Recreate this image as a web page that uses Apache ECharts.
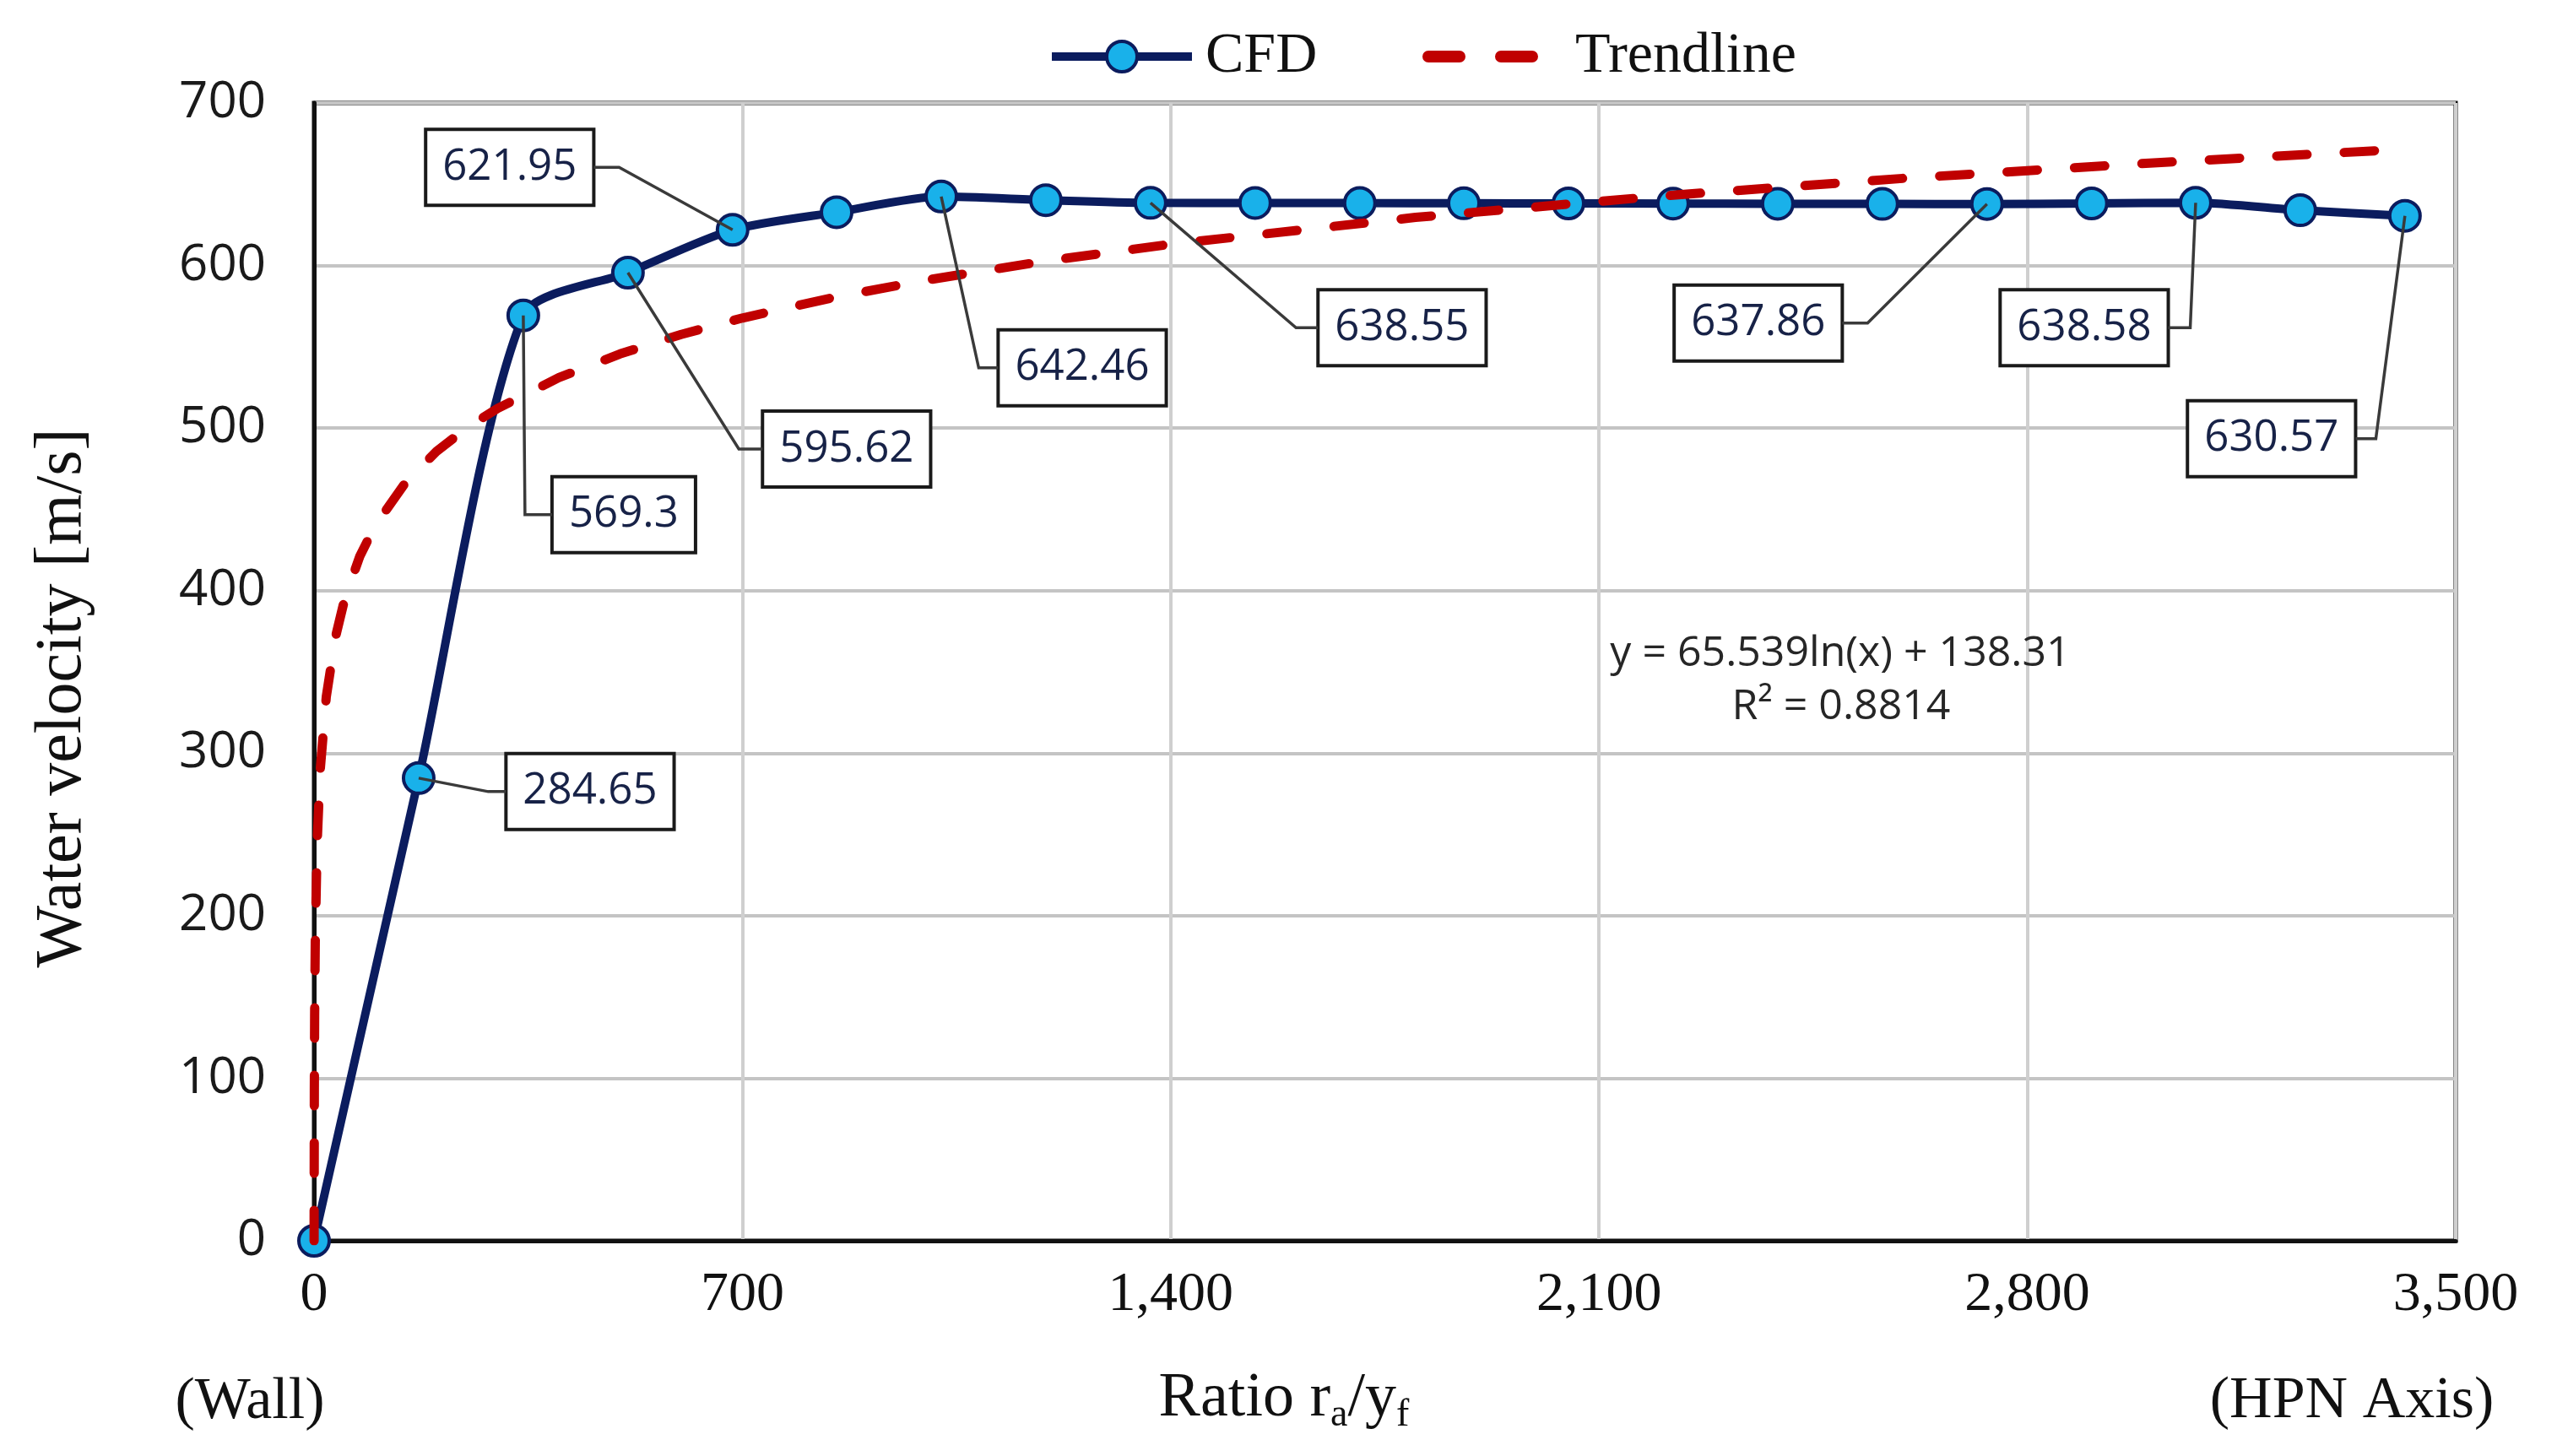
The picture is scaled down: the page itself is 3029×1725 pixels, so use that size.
<!DOCTYPE html>
<html><head><meta charset="utf-8">
<script src="https://cdn.jsdelivr.net/npm/echarts@6/dist/echarts.min.js"></script>
<style>html,body{margin:0;padding:0;background:#fff}#c{width:3029px;height:1725px}</style>
</head><body><div id="c"></div>
<script>
// ---- data ----
const cfdX = [0, 171, 342, 513, 684, 854, 1025, 1196, 1367, 1538, 1709, 1879, 2050, 2221, 2392, 2563, 2734, 2905, 3075, 3246, 3417];
const cfdY = [0, 284.65, 569.3, 595.62, 621.95, 632.8, 642.46, 640.2, 638.55, 638.5, 638.4, 638.3, 638.2, 638.1, 638.0, 637.9, 637.86, 638.2, 638.58, 634.0, 630.57];
const labeledIdx = [1, 2, 3, 4, 6, 8, 16, 18, 20];
const trendX = [0.12, 0.5, 1, 2, 5, 10, 20, 35, 50, 75, 100, 150, 200, 250, 300, 400, 500, 600, 700, 850, 1000, 1200, 1400, 1800, 2200, 2600, 3000, 3417];
const trendY = [0, 92.9, 138.3, 183.7, 243.8, 289.2, 334.6, 371.3, 394.7, 421.3, 440.1, 466.7, 485.6, 500.2, 512.1, 531.0, 545.6, 557.6, 567.7, 580.4, 591.0, 603.0, 613.1, 629.6, 642.7, 653.7, 663.0, 671.6];
const xTickValues = [0, 700, 1400, 2100, 2800, 3500];
const yTickValues = [0, 100, 200, 300, 400, 500, 600, 700];
const seriesNames = ['CFD', 'Trendline'];
const equationLines = ['y = 65.539ln(x) + 138.31', 'R\u00B2 = 0.8814'];

// ---- callout layout (pixel offsets of label boxes from their points) ----
const callouts = {
  1:  {dx: 203,  dy: 16,  side: 'left',  stub: 21},
  2:  {dx: 119,  dy: 236, side: 'left',  stub: 32},
  3:  {dx: 259,  dy: 209, side: 'left',  stub: 28},
  4:  {dx: -264, dy: -74, side: 'right', stub: 30},
  6:  {dx: 167,  dy: 203, side: 'left',  stub: 23},
  8:  {dx: 298,  dy: 148, side: 'left',  stub: 26},
  16: {dx: -271, dy: 141, side: 'right', stub: 30},
  18: {dx: -132, dy: 148, side: 'right', stub: 26},
  20: {dx: -158, dy: 264, side: 'right', stub: 24}
};

const LABEL_FONT = 51, LABEL_PADX = 18, LABEL_BORDER = 4;
const serif = 'Liberation Serif';
const sans = 'Open Sans';
const navy = '#0b1c5e';

const cfdData = cfdX.map((x, i) => {
  const item = {value: [x, cfdY[i]]};
  if (labeledIdx.indexOf(i) >= 0) {
    const c = callouts[i];
    item.label = {show: true, offset: [c.dx, c.dy]};
  }
  return item;
});
const trendData = trendX.map((x, i) => [x, trendY[i]]);

const chart = echarts.init(document.getElementById('c'), null, {renderer: 'canvas'});
const option = {
  animation: false,
  backgroundColor: '#fff',
  grid: {left: 372, right: 120, top: 122, bottom: 255, show: true, borderColor: '#111', borderWidth: 5, outerBoundsMode: 'none', containLabel: false},
  legend: [
    {data: [seriesNames[0]], left: 1241, top: 32, padding: 0, itemWidth: 166, itemHeight: 45,
     lineStyle: {color: navy, width: 10},
     itemStyle: {color: '#19b1ea', borderColor: navy, borderWidth: 4},
     textStyle: {fontFamily: serif, fontSize: 68, color: '#111', lineHeight: 70, padding: [0, 0, 0, 11]}},
    {data: [{name: seriesNames[1], icon: 'path://M7,0 L44,0 A7,7 0 0 1 44,14 L7,14 A7,7 0 0 1 7,0 Z M93,0 L130,0 A7,7 0 0 1 130,14 L93,14 A7,7 0 0 1 93,0 Z'}],
     left: 1685, top: 32, padding: 0, itemWidth: 137, itemHeight: 14,
     itemStyle: {color: '#c00000'},
     textStyle: {fontFamily: serif, fontSize: 68, color: '#111', lineHeight: 70, padding: [0, 0, 0, 39]}}
  ],
  xAxis: {
    type: 'value',
    min: xTickValues[0], max: xTickValues[xTickValues.length - 1], interval: xTickValues[1] - xTickValues[0],
    axisLine: {show: true, lineStyle: {color: '#111', width: 5}},
    axisTick: {show: false},
    splitLine: {show: true, lineStyle: {color: '#cfcfcf', width: 4}},
    axisLabel: {fontFamily: serif, fontSize: 66, color: '#111', margin: 32, showMinLabel: true, showMaxLabel: true},
    name: 'Ratio r{s|a}/y{s|f}',
    nameLocation: 'middle',
    nameGap: 146,
    nameTextStyle: {fontFamily: serif, fontSize: 74, color: '#111', lineHeight: 84, padding: [0, 239, 0, 0],
      rich: {s: {fontFamily: serif, fontSize: 46, lineHeight: 46, verticalAlign: 'bottom', color: '#111'}}}
  },
  yAxis: {
    type: 'value',
    min: yTickValues[0], max: yTickValues[yTickValues.length - 1], interval: yTickValues[1] - yTickValues[0],
    axisLine: {show: true, lineStyle: {color: '#111', width: 5}},
    axisTick: {show: false},
    splitLine: {show: true, lineStyle: {color: '#c4c4c4', width: 4}},
    axisLabel: {fontFamily: sans, fontSize: 60, color: '#1a1a1a', margin: 57, showMinLabel: true, showMaxLabel: true},
    name: 'Water velocity [m/s]',
    nameLocation: 'middle',
    nameRotate: 90,
    nameGap: 258,
    nameTextStyle: {fontFamily: serif, fontSize: 78, color: '#111', padding: [0, 62, 0, 0]}
  },
  series: [
    {
      name: seriesNames[0], type: 'line', data: cfdData, smooth: 0.25, clip: false,
      symbol: 'circle', symbolSize: 36, z: 3,
      lineStyle: {color: navy, width: 10},
      itemStyle: {color: '#19b1ea', borderColor: navy, borderWidth: 4},
      label: {show: false, position: 'inside',
        formatter: p => String(p.value[1]),
        fontFamily: sans, fontSize: LABEL_FONT, color: '#172247', lineHeight: 60,
        backgroundColor: '#fff', borderColor: '#1a1a1a', borderWidth: LABEL_BORDER,
        padding: [13, LABEL_PADX]},
      emphasis: {disabled: true}
    },
    {
      name: seriesNames[1], type: 'line', data: trendData, smooth: false, clip: true,
      symbol: 'none', showSymbol: false, z: 4, color: '#c00000',
      lineStyle: {color: '#c00000', width: 11, type: [36, 44], cap: 'round'},
      emphasis: {disabled: true}
    }
  ]
};
chart.setOption(option);

// leader lines for the callouts, positioned via the chart's own scales
const ctx = document.createElement('canvas').getContext('2d');
ctx.font = LABEL_FONT + 'px "' + sans + '"';
const graphics = [];
labeledIdx.forEach(i => {
  const c = callouts[i];
  const p = chart.convertToPixel({gridIndex: 0}, [cfdX[i], cfdY[i]]);
  const cx = p[0] + c.dx, cy = p[1] + c.dy;
  const halfW = (ctx.measureText(String(cfdY[i])).width + 2 * LABEL_PADX) / 2 + LABEL_BORDER / 2;
  const edgeX = c.side === 'left' ? cx - halfW : cx + halfW;
  const elbowX = c.side === 'left' ? edgeX - c.stub : edgeX + c.stub;
  graphics.push({type: 'polyline', z: 50, silent: true,
    shape: {points: [[p[0], p[1]], [elbowX, cy], [edgeX, cy]]},
    style: {stroke: '#3a3a3a', lineWidth: 3.5, fill: null}});
});
graphics.push({type: 'text', x: 2180, y: 775, z: 20, silent: true,
  style: {text: equationLines[0], fontFamily: sans, fontSize: 50, fill: '#262626', align: 'center', verticalAlign: 'middle'}});
graphics.push({type: 'text', x: 2181, y: 838, z: 20, silent: true,
  style: {text: equationLines[1], fontFamily: sans, fontSize: 50, fill: '#262626', align: 'center', verticalAlign: 'middle'}});
graphics.push({type: 'text', x: 296, y: 1662, z: 20, silent: true,
  style: {text: '(Wall)', fontFamily: serif, fontSize: 70, fill: '#111', align: 'center', verticalAlign: 'middle'}});
graphics.push({type: 'text', x: 2786, y: 1661, z: 20, silent: true,
  style: {text: '(HPN Axis)', fontFamily: serif, fontSize: 70, fill: '#111', align: 'center', verticalAlign: 'middle'}});
chart.setOption({graphic: graphics});
</script>
</body></html>
